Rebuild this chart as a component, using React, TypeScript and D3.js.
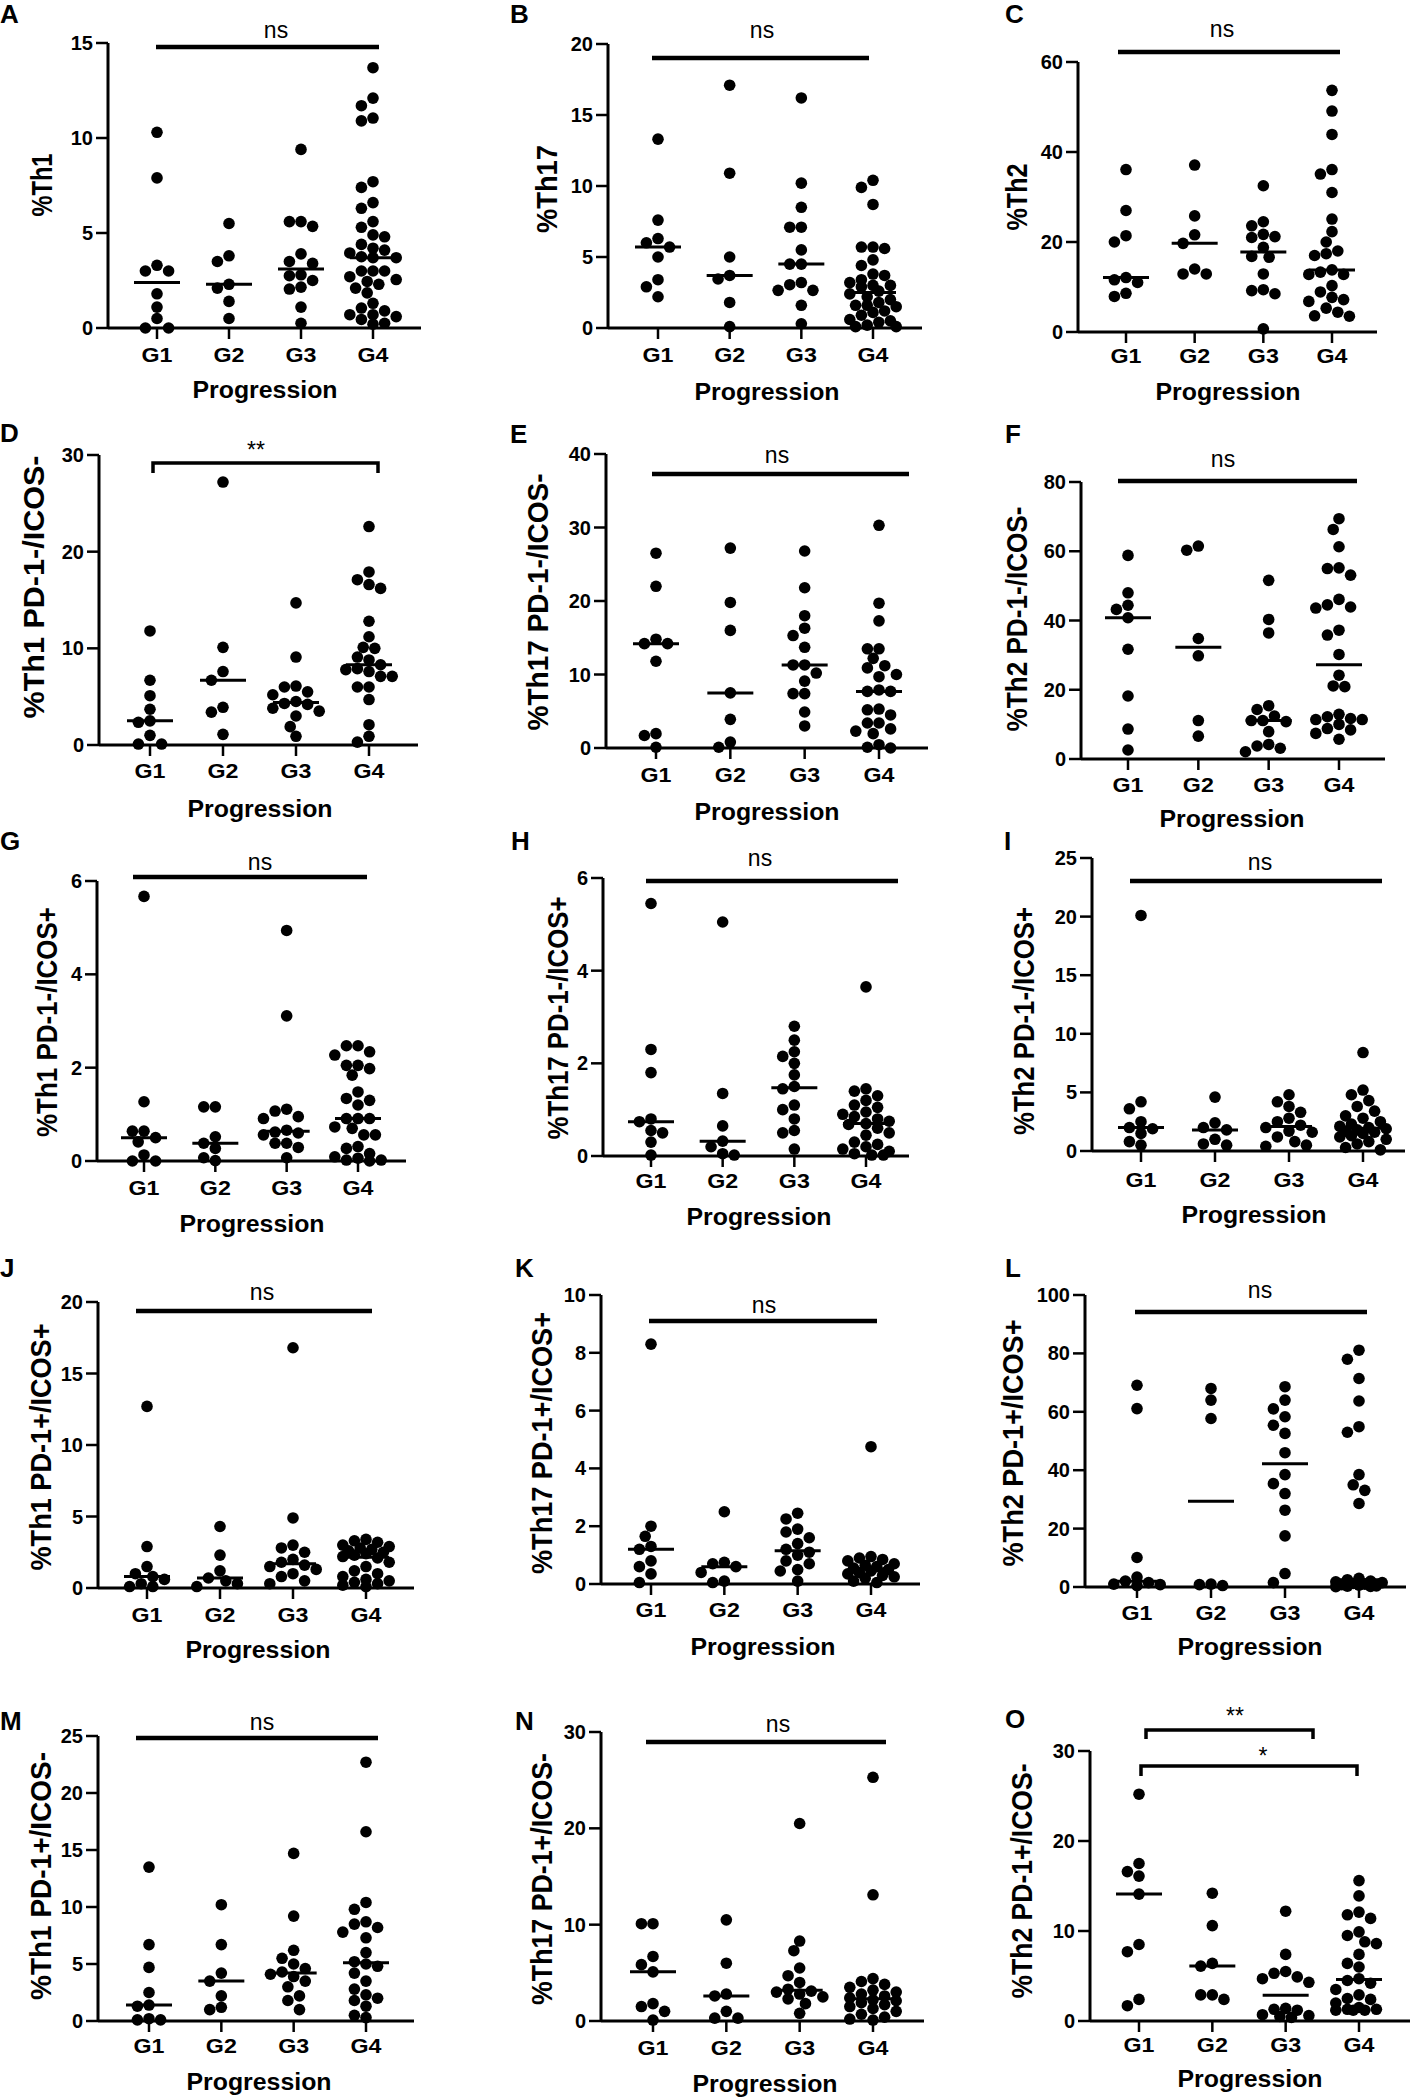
import * as d3 from "d3";

// ---- data -------------------------------------------------------------
const groups = ["G1", "G2", "G3", "G4"];

const th1 = [
  [10.3, 7.9, 3.3, 3.0, 3.0, 1.8, 1.1, 0.5, 0, 0],
  [5.5, 3.8, 3.5, 2.3, 2.1, 1.4, 0.5],
  [9.4, 5.6, 5.6, 5.35, 3.9, 3.5, 3.4, 2.8, 2.75, 2.5, 2.15, 2.05, 1.1, 0.25],
  [13.7, 12.1, 11.7, 11.05, 10.9, 7.7, 7.4, 6.6, 6.3, 5.6, 5.3, 4.9, 4.8, 4.4, 4.2, 4.1, 3.95, 3.75, 3.7, 3.7,
    3.0, 3.0, 3.0, 2.7, 2.55, 2.45, 2.3, 2.1, 1.85, 1.3, 1.05, 0.9, 0.7, 0.7, 0.6, 0.45, 0.25, 0.2],
];
const th17 = [
  [13.3, 7.6, 6.3, 6.0, 5.7, 5.0, 3.4, 2.9, 2.2],
  [17.1, 10.9, 5.0, 3.7, 3.45, 1.8, 0.1],
  [16.2, 10.2, 8.5, 7.1, 7.1, 5.5, 4.5, 4.5, 3.2, 3.05, 2.65, 2.65, 1.6, 0.3],
  [10.4, 9.9, 8.7, 5.7, 5.7, 5.6, 4.8, 4.4, 3.8, 3.7, 3.4, 3.2, 3.0, 3.0, 2.9, 2.6, 2.4, 2.2, 2.0, 1.8,
    1.6, 1.6, 1.5, 1.2, 1.1, 0.9, 0.6, 0.5, 0.4, 0.2, 0.1, 0.1],
];
const th2 = [
  [36.1, 27.0, 21.4, 20.0, 12.1, 11.6, 11.0, 8.6, 7.9],
  [37.1, 25.8, 21.6, 19.7, 14.0, 12.9, 12.9],
  [32.5, 24.5, 23.6, 21.7, 21.2, 21.0, 18.8, 16.8, 16.6, 12.9, 9.4, 9.2, 8.5, 0.7],
  [53.7, 49.1, 43.9, 36.1, 35.1, 31.0, 25.1, 22.3, 20.0, 18.0, 17.4, 17.0, 13.8, 13.3, 12.8, 12.8, 10.3,
    8.9, 7.7, 7.2, 6.8, 5.3, 4.4, 3.6, 3.5],
];
const th1NegNeg = [
  [11.8, 6.7, 5.1, 3.7, 2.5, 2.35, 1.0, 0.1, 0.1],
  [27.2, 10.1, 7.6, 6.7, 3.9, 3.4, 1.1],
  [14.7, 9.1, 6.1, 6.0, 5.5, 5.2, 4.5, 4.3, 4.2, 3.8, 3.5, 3.0, 1.9, 0.9],
  [22.6, 17.9, 17.1, 16.6, 16.2, 12.8, 11.2, 10.1, 10.0, 9.1, 8.8, 8.3, 7.9, 7.8, 7.6, 7.1, 7.1, 6.0, 6.0,
    4.7, 2.1, 0.9, 0.3],
];
const th17NegNeg = [
  [26.5, 22.0, 14.8, 14.2, 14.2, 11.8, 1.95, 1.7, 0.1],
  [27.2, 19.8, 16.0, 7.5, 3.9, 0.8, 0.1],
  [26.8, 21.8, 18.0, 16.3, 15.3, 13.7, 11.3, 11.3, 10.2, 9.1, 7.4, 7.4, 4.9, 3.0],
  [30.3, 19.7, 17.3, 13.5, 13.5, 12.2, 11.2, 10.9, 10.0, 9.7, 7.9, 7.7, 7.7, 5.3, 5.2, 4.5, 3.4, 3.4, 2.6,
    2.3, 1.95, 0.45, 0.1, 0.0],
];
const th2NegNeg = [
  [58.8, 48.0, 44.4, 43.2, 40.8, 31.7, 18.2, 8.65, 2.6],
  [61.5, 60.3, 34.8, 29.8, 11.1, 6.6],
  [51.6, 40.3, 36.4, 15.4, 14.3, 12.4, 11.1, 11.1, 10.8, 7.9, 4.2, 3.75, 3.1, 2.1],
  [69.4, 66.3, 61.3, 55.2, 55.0, 53.1, 46.1, 44.5, 43.9, 43.6, 37.2, 35.8, 30.2, 24.2, 21.1, 20.9, 12.9,
    12.2, 11.7, 11.4, 11.4, 10.0, 8.8, 8.4, 7.4, 5.7],
];
const th1NegPos = [
  [5.67, 1.27, 0.64, 0.64, 0.5, 0.41, 0.13, 0, 0],
  [1.16, 1.16, 0.52, 0.38, 0.27, 0.07, 0.01],
  [4.94, 3.11, 1.11, 1.07, 0.95, 0.91, 0.66, 0.62, 0.6, 0.56, 0.38, 0.38, 0.29, 0.07],
  [2.47, 2.47, 2.34, 2.27, 2.05, 2.05, 1.98, 1.84, 1.48, 1.34, 1.3, 1.2, 0.91, 0.91, 0.91, 0.73, 0.7,
    0.56, 0.56, 0.31, 0.27, 0.16, 0.09, 0.06, 0.02, 0.02, 0],
];
const th17NegPos = [
  [5.45, 2.3, 1.8, 0.8, 0.74, 0.55, 0.5, 0.3, 0.02],
  [5.05, 1.35, 0.65, 0.32, 0.2, 0.05, 0.02],
  [2.8, 2.5, 2.25, 2.15, 2.0, 1.75, 1.5, 1.45, 1.1, 1.0, 0.8, 0.55, 0.5, 0.15],
  [3.65, 1.45, 1.4, 1.3, 1.2, 1.1, 1.05, 0.95, 0.9, 0.85, 0.8, 0.75, 0.7, 0.68, 0.6, 0.5, 0.45, 0.3,
    0.25, 0.2, 0.15, 0.1, 0.05, 0.02, 0.02],
];
const th2NegPos = [
  [20.1, 4.2, 3.6, 2.5, 2.0, 1.9, 1.5, 0.8, 0.5],
  [4.6, 2.4, 2.0, 1.8, 1.0, 0.6, 0.5],
  [4.8, 4.2, 3.8, 3.3, 2.8, 2.5, 2.2, 2.0, 1.7, 1.6, 1.2, 0.8, 0.5, 0.4],
  [8.4, 5.2, 4.8, 4.3, 3.8, 3.4, 3.0, 2.8, 2.5, 2.3, 2.1, 2.0, 1.9, 1.8, 1.7, 1.6, 1.5, 1.3, 1.2, 1.0,
    0.8, 0.6, 0.3, 0.1],
];
const th1PosPos = [
  [12.7, 2.9, 1.5, 1.0, 0.8, 0.6, 0.3, 0.1, 0.1],
  [4.3, 2.3, 1.2, 0.7, 0.5, 0.3, 0.1],
  [16.8, 4.9, 3.0, 2.8, 2.5, 2.0, 1.8, 1.6, 1.5, 1.3, 1.0, 0.8, 0.5, 0.3],
  [3.4, 3.3, 3.2, 3.0, 2.9, 2.8, 2.7, 2.6, 2.5, 2.4, 2.3, 2.2, 2.1, 1.8, 1.5, 1.2, 1.0, 0.8, 0.6, 0.5,
    0.4, 0.3, 0.2, 0.1],
];
const th17PosPos = [
  [8.3, 2.0, 1.65, 1.3, 1.2, 0.8, 0.6, 0.35, 0.05],
  [2.5, 0.75, 0.7, 0.6, 0.4, 0.1, 0.05],
  [2.45, 2.25, 1.9, 1.8, 1.6, 1.4, 1.2, 1.1, 1.0, 0.8, 0.7, 0.5, 0.45, 0.1],
  [4.75, 0.95, 0.9, 0.85, 0.8, 0.7, 0.65, 0.6, 0.55, 0.5, 0.45, 0.4, 0.35, 0.3, 0.25, 0.2, 0.1, 0.05],
];
const th2PosPos = [
  [69.1, 61.1, 10.1, 3.4, 2.0, 1.5, 1.0, 0.8, 0.5],
  [68, 64, 57.7, 1.0, 0.8, 0.5],
  [68.6, 64, 61, 58.3, 55.4, 52.6, 46, 38.5, 35.4, 32, 26.3, 17.5, 4.6, 1.5],
  [81.1, 78, 71.4, 63.7, 54.9, 53, 38.5, 35, 33.1, 28.6, 3.0, 2.5, 2.0, 1.8, 1.5, 1.2, 1.0, 0.8, 0.6,
    0.4, 0.3, 0.2, 0.1],
];
const th1PosNeg = [
  [13.5, 6.7, 4.7, 2.5, 1.4, 1.3, 0.2, 0.1, 0.1],
  [10.2, 6.7, 4.2, 3.5, 2.2, 1.2, 1.0],
  [14.7, 9.2, 6.2, 5.5, 5.0, 4.6, 4.3, 4.1, 3.9, 3.5, 3.0, 2.2, 1.8, 1.0],
  [22.7, 16.6, 10.4, 9.8, 8.7, 8.5, 8.2, 7.8, 7.3, 6.0, 5.2, 5.0, 4.8, 4.2, 3.5, 2.8, 2.3, 2.0, 1.8, 1.3,
    0.5, 0.3],
];
const th17PosNeg = [
  [10.1, 10.1, 6.7, 5.85, 5.1, 1.8, 1.5, 1.0, 0.1],
  [10.5, 6.0, 2.8, 2.6, 1.0, 0.3, 0.3],
  [20.5, 8.3, 7.3, 5.5, 4.7, 4.0, 3.3, 3.1, 3.0, 2.8, 2.5, 2.3, 1.8, 0.8],
  [25.3, 13.1, 4.4, 4.1, 3.8, 3.5, 3.2, 3.0, 2.8, 2.6, 2.4, 2.2, 2.1, 1.9, 1.7, 1.5, 1.3, 1.0, 0.7, 0.4,
    0.2, 0.1],
];
const th2PosNeg = [
  [25.2, 17.5, 16.6, 16.1, 14.1, 8.5, 7.7, 2.4, 1.7],
  [14.2, 10.6, 6.4, 6.1, 2.9, 2.9, 2.4],
  [12.2, 7.4, 5.5, 5.3, 4.9, 4.7, 4.3, 1.4, 1.3, 1.2, 0.7, 0.6, 0.5, 0.4],
  [15.6, 13.9, 12.1, 11.8, 11.4, 9.9, 9.5, 8.8, 8.6, 7.4, 6.4, 6.0, 4.7, 4.5, 4.2, 3.5, 2.9, 2.5, 2.4,
    2.0, 1.5, 1.3, 1.3, 1.2, 1.2, 1.2],
];

const yTitles = [
  "%Th1", "%Th17", "%Th2",
  "%Th1 PD-1-/ICOS-", "%Th17 PD-1-/ICOS-", "%Th2 PD-1-/ICOS-",
  "%Th1 PD-1-/ICOS+", "%Th17 PD-1-/ICOS+", "%Th2 PD-1-/ICOS+",
  "%Th1 PD-1+/ICOS+", "%Th17 PD-1+/ICOS+", "%Th2 PD-1+/ICOS+",
  "%Th1 PD-1+/ICOS-", "%Th17 PD-1+/ICOS-", "%Th2 PD-1+/ICOS-",
];
const yTicks = [
  [0, 5, 10, 15], [0, 5, 10, 15, 20], [0, 20, 40, 60],
  [0, 10, 20, 30], [0, 10, 20, 30, 40], [0, 20, 40, 60, 80],
  [0, 2, 4, 6], [0, 2, 4, 6], [0, 5, 10, 15, 20, 25],
  [0, 5, 10, 15, 20], [0, 2, 4, 6, 8, 10], [0, 20, 40, 60, 80, 100],
  [0, 5, 10, 15, 20, 25], [0, 10, 20, 30], [0, 10, 20, 30],
];
const sigLabels = [
  ["ns"], ["ns"], ["ns"],
  ["**"], ["ns"], ["ns"],
  ["ns"], ["ns"], ["ns"],
  ["ns"], ["ns"], ["ns"],
  ["ns"], ["ns"], ["**", "*"],
];
const series = [
  th1, th17, th2,
  th1NegNeg, th17NegNeg, th2NegNeg,
  th1NegPos, th17NegPos, th2NegPos,
  th1PosPos, th17PosPos, th2PosPos,
  th1PosNeg, th17PosNeg, th2PosNeg,
];
const letters = "ABCDEFGHIJKLMNO".split("");

// ---- layout (page pixels) ---------------------------------------------
type Sig = { y: number; x1: number; x2: number; legs: number; tx: number; ty: number };
type Layout = {
  ax: number; y0: number; yTop: number; g1: number; g4: number; xEnd: number;
  lx: number; ly: number; lLen: number; px: number; py: number; tickY: number;
  letter: [number, number]; sig: Sig[];
};

const L = (
  ax: number, y0: number, yTop: number, g1: number, g4: number, xEnd: number,
  lx: number, ly: number, lLen: number, px: number, py: number, tickY: number,
  letter: [number, number], sig: Sig[],
): Layout => ({ ax, y0, yTop, g1, g4, xEnd, lx, ly, lLen, px, py, tickY, letter, sig });

const ns = (y: number, x1: number, x2: number, tx: number, ty: number): Sig => ({ y, x1, x2, legs: 0, tx, ty });

const layouts: Layout[] = [
  L(108, 328, 43, 157, 373, 421, 42, 185, 63, 265, 398, 362, [0, 23], [ns(47, 156, 379, 276, 38)]),
  L(608, 328, 44, 658, 873, 922, 547, 189, 88, 767, 400, 362, [510, 23], [ns(58, 652, 869, 762, 38)]),
  L(1078, 332, 62, 1126, 1332, 1377, 1017, 197, 67, 1228, 400, 363, [1005, 23], [ns(52, 1118, 1340, 1222, 37)]),
  L(99, 745, 455, 150, 369, 418, 34, 587, 263, 260, 817, 778, [0, 442],
    [{ y: 463, x1: 153, x2: 378, legs: 10, tx: 256, ty: 458 }]),
  L(606, 748, 454, 656, 879, 928, 538, 602, 257, 767, 820, 782, [510, 443], [ns(474, 652, 909, 777, 463)]),
  L(1081, 759, 482, 1128, 1339, 1385, 1017, 619, 225, 1232, 827, 792, [1005, 443], [ns(481, 1118, 1357, 1223, 467)]),
  L(97, 1161, 881, 144, 358, 406, 47, 1022, 230, 252, 1232, 1195, [0, 850], [ns(877, 133, 367, 260, 870)]),
  L(603, 1156, 878, 651, 866, 909, 558, 1018, 243, 759, 1225, 1188, [511, 850], [ns(881, 646, 898, 760, 866)]),
  L(1092, 1151, 858, 1141, 1363, 1405, 1024, 1021, 228, 1254, 1223, 1187, [1004, 850], [ns(881, 1130, 1382, 1260, 870)]),
  L(98, 1588, 1302, 147, 366, 414, 41, 1447, 247, 258, 1658, 1622, [0, 1277], [ns(1311, 136, 372, 262, 1300)]),
  L(601, 1584, 1295, 651, 871, 920, 542, 1443, 262, 763, 1655, 1617, [515, 1277], [ns(1321, 649, 877, 764, 1313)]),
  L(1085, 1587, 1295, 1137, 1359, 1406, 1013, 1443, 247, 1250, 1655, 1620, [1005, 1277], [ns(1312, 1135, 1367, 1260, 1298)]),
  L(98, 2021, 1736, 149, 366, 414, 41, 1876, 248, 259, 2090, 2053, [0, 1730], [ns(1738, 136, 378, 262, 1730)]),
  L(601, 2021, 1732, 653, 873, 924, 542, 1879, 252, 765, 2092, 2055, [515, 1730], [ns(1742, 646, 886, 778, 1732)]),
  L(1090, 2021, 1751, 1139, 1359, 1410, 1022, 1881, 235, 1250, 2087, 2052, [1005, 1728], [
    { y: 1730, x1: 1146, x2: 1313, legs: 9, tx: 1235, ty: 1724 },
    { y: 1766, x1: 1141, x2: 1357, legs: 10, tx: 1263, ty: 1764 },
  ]),
];

const FONT = "'Liberation Sans', Arial, Helvetica, sans-serif";
const R = 5.8;
const MAX_OFF = 24;

// beeswarm: nearest free slot within the column width, else the least crowded one
function swarm(values: number[], y: (v: number) => number, cx: number) {
  const d = 2 * R * 0.96;
  const offsets: number[] = [0];
  for (let k = 1; k * R <= MAX_OFF; k++) offsets.push(-k * R, k * R);
  const placed: { x: number; y: number }[] = [];
  const ys = values.map((v) => y(v)).sort((a, b) => a - b);
  for (const py of ys) {
    let best = offsets[0];
    let bestGap = -1;
    let found = false;
    for (const off of offsets) {
      const px = cx + off;
      const gap = placed.length
        ? Math.min(...placed.map((p) => Math.hypot(p.x - px, p.y - py)))
        : Infinity;
      if (gap >= d) {
        best = off;
        found = true;
        break;
      }
      if (gap > bestGap + 0.5) {
        bestGap = gap;
        best = off;
      }
    }
    placed.push({ x: cx + best, y: py });
    void found;
  }
  return placed;
}

function Panel({ index }: { index: number }) {
  const lay = layouts[index];
  const ticks = yTicks[index];
  const data = series[index];
  const y = d3.scaleLinear().domain([0, ticks[ticks.length - 1]]).range([lay.y0, lay.yTop]);
  const x = d3.scalePoint<string>().domain(groups).range([lay.g1, lay.g4]);

  return (
    <g>
      <text x={lay.letter[0]} y={lay.letter[1]} fontSize={26} fontWeight="bold" fontFamily={FONT}>
        {letters[index]}
      </text>

      {/* y axis */}
      <line x1={lay.ax} x2={lay.ax} y1={lay.y0} y2={lay.yTop} stroke="#000" strokeWidth={3} />
      {ticks.map((t) => (
        <g key={t}>
          <line x1={lay.ax - 12} x2={lay.ax} y1={y(t)} y2={y(t)} stroke="#000" strokeWidth={2.5} />
          <text x={lay.ax - 15} y={y(t) + 7} textAnchor="end" fontSize={20} fontWeight="bold" fontFamily={FONT}>
            {t}
          </text>
        </g>
      ))}

      {/* x axis */}
      <line x1={lay.ax} x2={lay.xEnd} y1={lay.y0} y2={lay.y0} stroke="#000" strokeWidth={3} />
      {groups.map((g) => (
        <g key={g}>
          <line x1={x(g)} x2={x(g)} y1={lay.y0} y2={lay.y0 + 11} stroke="#000" strokeWidth={2.5} />
          <text x={x(g)} y={lay.tickY} textAnchor="middle" fontSize={20} fontWeight="bold" fontFamily={FONT}
            textLength={31} lengthAdjust="spacingAndGlyphs">
            {g}
          </text>
        </g>
      ))}

      <text x={lay.px} y={lay.py} textAnchor="middle" fontSize={23} fontWeight="bold" fontFamily={FONT}
        textLength={145} lengthAdjust="spacingAndGlyphs">
        Progression
      </text>
      <text transform={`translate(${lay.lx + 10},${lay.ly}) rotate(-90)`} textAnchor="middle" fontSize={29}
        fontWeight="bold" fontFamily={FONT} textLength={lay.lLen} lengthAdjust="spacingAndGlyphs">
        {yTitles[index]}
      </text>

      {/* dots + medians */}
      {data.map((vals, gi) => {
        const cx = x(groups[gi]) as number;
        const pts = swarm(vals, y, cx);
        const med = d3.median(vals) as number;
        return (
          <g key={gi}>
            {pts.map((p, i) => (
              <circle key={i} cx={p.x} cy={p.y} r={R} fill="#000" />
            ))}
            <line x1={cx - 23} x2={cx + 23} y1={y(med)} y2={y(med)} stroke="#000" strokeWidth={3} />
          </g>
        );
      })}

      {/* significance */}
      {lay.sig.map((s, i) => (
        <g key={i}>
          <path
            d={s.legs
              ? `M${s.x1},${s.y + s.legs}V${s.y}H${s.x2}V${s.y + s.legs}`
              : `M${s.x1},${s.y}H${s.x2}`}
            fill="none" stroke="#000" strokeWidth={s.legs ? 3.5 : 4.5}
          />
          <text x={s.tx} y={s.ty} textAnchor="middle" fontSize={23} fontFamily={FONT}>
            {sigLabels[index][i]}
          </text>
        </g>
      ))}
    </g>
  );
}

export default function App() {
  return (
    <svg
      width={1418}
      height={2100}
      style={{ position: "absolute", left: 0, top: 0, background: "#fff" }}
    >
      <rect width={1418} height={2100} fill="#fff" />
      {layouts.map((_, i) => (
        <Panel key={i} index={i} />
      ))}
    </svg>
  );
}
